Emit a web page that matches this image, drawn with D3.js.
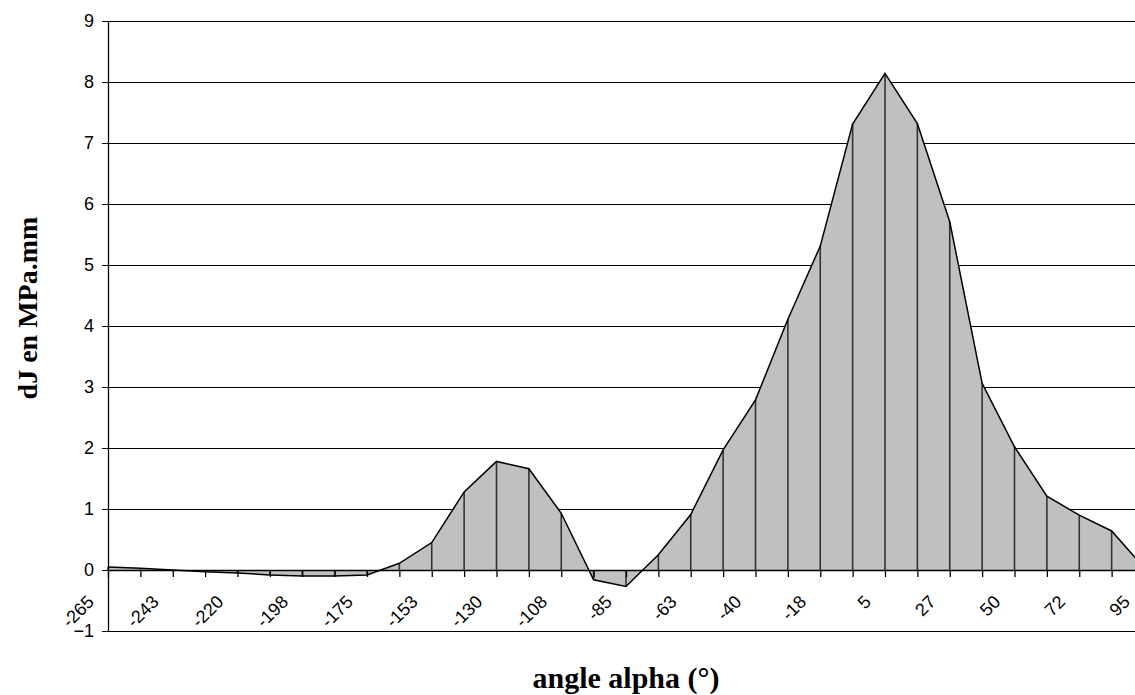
<!DOCTYPE html>
<html>
<head>
<meta charset="utf-8">
<script src="https://cdn.jsdelivr.net/npm/d3@7"></script>
<style>
  html, body { margin: 0; padding: 0; background: #fff; }
  svg { display: block; }
</style>
</head>
<body>
<svg id="chart" width="1135" height="695"></svg>
<script>
// ---- Data ----
const categories = [-265, -253.75, -242.5, -231.25, -220, -208.75, -197.5, -186.25, -175, -163.75,
  -152.5, -141.25, -130, -118.75, -107.5, -96.25, -85, -73.75, -62.5, -51.25,
  -40, -28.75, -17.5, -6.25, 5, 16.25, 27.5, 38.75, 50, 61.25, 72.5, 83.75, 95];
const values = [0.05, 0.03, 0.0, -0.03, -0.05, -0.08, -0.1, -0.1, -0.08, 0.11,
  0.45, 1.28, 1.78, 1.66, 0.93, -0.16, -0.27, 0.25, 0.91, 1.97,
  2.79, 4.11, 5.31, 7.31, 8.14, 7.32, 5.71, 3.06, 2.02, 1.21,
  0.90, 0.64, 0.04];
const xTickLabels = ["-265", "-243", "-220", "-198", "-175", "-153", "-130", "-108", "-85",
  "-63", "-40", "-18", "5", "27", "50", "72", "95"];
const yTicks = [-1, 0, 1, 2, 3, 4, 5, 6, 7, 8, 9];
const xTitle = "angle alpha (°)";
const yTitle = "dJ en MPa.mm";

// ---- Layout ----
const plotL = 108, plotR = 1144, plotT = 21, plotB = 631;
const svg = d3.select("#chart");

const x = d3.scalePoint().domain(d3.range(categories.length)).range([plotL, plotR]);
const y = d3.scaleLinear().domain([-1, 9]).range([plotB, plotT]);

// Gridlines
svg.append("g").selectAll("line")
  .data(yTicks.filter(d => d !== 0))
  .join("line")
  .attr("x1", plotL).attr("x2", plotR)
  .attr("y1", d => y(d)).attr("y2", d => y(d))
  .attr("stroke", "#000").attr("stroke-width", 1)
  .attr("shape-rendering", "crispEdges");

// Area
const data = values.map((v, i) => ({ i, v }));
const area = d3.area().x(d => x(d.i)).y0(y(0)).y1(d => y(d.v));
svg.append("path").datum(data)
  .attr("d", area)
  .attr("fill", "#c0c0c0");

// Drop lines
svg.append("g").selectAll("line")
  .data(data)
  .join("line")
  .attr("x1", d => x(d.i)).attr("x2", d => x(d.i))
  .attr("y1", y(0)).attr("y2", d => y(d.v))
  .attr("stroke", "#333").attr("stroke-width", 1.6);

// Series line
const line = d3.line().x(d => x(d.i)).y(d => y(d.v));
svg.append("path").datum(data)
  .attr("d", line)
  .attr("fill", "none")
  .attr("stroke", "#000").attr("stroke-width", 1.5)
  .attr("stroke-linejoin", "miter");

// Y axis
const yAxis = d3.axisLeft(y).tickValues(yTicks).tickSize(6).tickSizeOuter(0).tickPadding(8)
  .tickFormat(d3.format("d"));
const yg = svg.append("g").attr("transform", `translate(${plotL},0)`).call(yAxis);
yg.select(".domain").attr("stroke", "#000").attr("stroke-width", 1.3);
yg.selectAll(".tick line").attr("stroke", "#000");
yg.selectAll("text")
  .attr("font-family", "'Liberation Sans', Arial, sans-serif")
  .attr("font-size", 18).attr("fill", "#000");

// X axis at y=0 (ticks at every category)
const xAxis = d3.axisBottom(x).tickSize(7).tickSizeOuter(0).tickFormat("");
const xg = svg.append("g").attr("transform", `translate(0,${y(0)})`).call(xAxis);
xg.select(".domain").attr("stroke", "#000").attr("stroke-width", 1.5);
xg.selectAll(".tick line").attr("stroke", "#000").attr("stroke-width", 1.3);

// X tick labels every 2nd category, rotated
svg.append("g").selectAll("text")
  .data(xTickLabels)
  .join("text")
  .attr("transform", (d, k) => `translate(${x(k * 2) - 22},${y(0) + 24}) rotate(-45)`)
  .attr("text-anchor", "end")
  .attr("dy", "0.71em")
  .attr("font-family", "'Liberation Sans', Arial, sans-serif")
  .attr("font-size", 18)
  .attr("fill", "#000")
  .text(d => d);

// Titles
svg.append("text")
  .attr("x", 626).attr("y", 688)
  .attr("text-anchor", "middle")
  .attr("font-family", "'Liberation Serif', 'Times New Roman', serif")
  .attr("font-weight", "bold").attr("font-size", 30)
  .text(xTitle);

svg.append("text")
  .attr("transform", "translate(37,308) rotate(-90)")
  .attr("text-anchor", "middle")
  .attr("font-family", "'Liberation Serif', 'Times New Roman', serif")
  .attr("font-weight", "bold").attr("font-size", 28)
  .text(yTitle);
</script>
</body>
</html>
